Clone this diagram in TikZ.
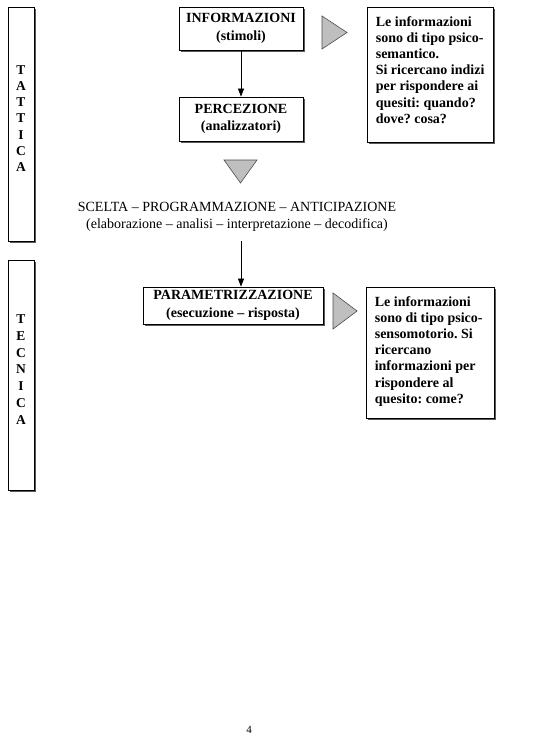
\documentclass[tikz,border=0pt]{standalone}
\usepackage{fontspec}
\setmainfont{Liberation Serif}
\usetikzlibrary{shadows,arrows.meta}
\frenchspacing
\begin{document}
\begin{tikzpicture}[x=1pt,y=-1pt,
  box/.style={draw=black, line width=0.8pt, fill=white, inner sep=0pt,
    drop shadow={shadow xshift=2pt, shadow yshift=-2pt, fill=black!65, opacity=1}},
  ttl/.style={font=\fontsize{14}{17.5}\selectfont\bfseries, align=center},
  body/.style={font=\fontsize{14}{16.2}\selectfont\bfseries, align=left, inner sep=0pt, anchor=north west},
  tri/.style={fill=black!25, draw=black!70, line width=0.6pt, line join=miter},
  arr/.style={draw=black, line width=0.7pt, -{Triangle[length=8pt,width=6pt]}}]
\useasboundingbox (0,0) rectangle (546,741);

% side bands
\node[box, minimum width=26pt, minimum height=234pt] (tat) at (21,124) {};
\node[ttl, font=\fontsize{13.5}{16.2}\selectfont\bfseries] (tatt) at (21,118.5) {T\\A\\T\\T\\I\\C\\A};
\node[box, minimum width=26pt, minimum height=230pt] (tec) at (21,375) {};
\node[ttl, font=\fontsize{13.5}{16.8}\selectfont\bfseries] (tect) at (21,369.5) {T\\E\\C\\N\\I\\C\\A};

% main boxes
\node[box, ttl, minimum width=124pt, minimum height=43pt] (inf) at (241,28.5) {INFORMAZIONI\\(stimoli)};
\node[box, ttl, minimum width=124pt, minimum height=44pt] (per) at (241,119) {PERCEZIONE\\(analizzatori)};
\node[box, ttl, minimum width=180pt, minimum height=37pt] (par) at (233,305.5) {PARAMETRIZZAZIONE\\(esecuzione -- risposta)};

\draw[arr] (inf) -- (per);

% middle text
\node[font=\fontsize{14}{17}\selectfont, align=center] (sce) at (237,217) {SCELTA -- PROGRAMMAZIONE -- ANTICIPAZIONE\\(elaborazione -- analisi -- interpretazione -- decodifica)};
\coordinate (s) at (241,241);
\draw[arr] (s) -- (s |- par.north);

% triangles
\draw[tri] (224,160) -- (257,160) -- (240.5,183) -- cycle;
\draw[tri] (322,16) -- (322,49) -- (347,32.5) -- cycle;
\draw[tri] (333,293) -- (333,329) -- (357,311) -- cycle;

% right boxes
\node[box, minimum width=126pt, minimum height=135pt] (r1) at (430,74.5) {};
\node[body] (r1t) at ([shift={(9,9.5)}]r1.north west) {Le informazioni\\sono di tipo psico-\\semantico.\\Si ricercano indizi\\per rispondere ai\\quesiti: quando?\\dove? cosa?};
\node[box, minimum width=128pt, minimum height=131pt] (r2) at (430,352.5) {};
\node[body] (r2t) at ([shift={(9,9.5)}]r2.north west) {Le informazioni\\sono di tipo psico-\\sensomotorio. Si\\ricercano\\informazioni per\\rispondere al\\quesito: come?};

% page number
\node[font=\fontsize{11}{13}\selectfont] (pg) at (249,730) {4};
\end{tikzpicture}
\end{document}
